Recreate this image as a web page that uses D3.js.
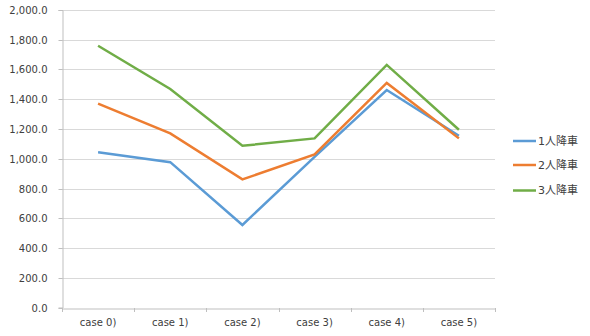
<!DOCTYPE html>
<html><head><meta charset="utf-8">
<script src="https://cdn.jsdelivr.net/npm/d3@7"></script>
<style>body{margin:0;background:#fff}svg{display:block}</style>
</head><body>
<script>
const categories = ["case 0)", "case 1)", "case 2)", "case 3)", "case 4)", "case 5)"];
const seriesNames = ["1人降車", "2人降車", "3人降車"];
const series1 = [1044, 977, 555, 1012, 1462, 1155];
const series2 = [1371, 1170, 861, 1029, 1510, 1137];
const series3 = [1760, 1469, 1087, 1137, 1631, 1195];
const colors = ["#5B9BD5", "#ED7D31", "#70AD47"];
const yTicks = [0, 200, 400, 600, 800, 1000, 1200, 1400, 1600, 1800, 2000];

(function () {
const W = 590, H = 336;
const svg = d3.select("body").append("svg").attr("width", W).attr("height", H);
const mLeft = 62, mRight = 495, mTop = 10, mBottom = 307.5;
const x = d3.scaleBand().domain(categories).range([mLeft, mRight]);
const y = d3.scaleLinear().domain([0, 2000]).range([mBottom, mTop]);
const font = "'DejaVu Sans', Verdana, sans-serif";

// gridlines
svg.append("g").selectAll("line").data(yTicks.filter(d => d > 0)).join("line")
  .attr("x1", mLeft).attr("x2", mRight)
  .attr("y1", d => Math.round(y(d)) + 0.5).attr("y2", d => Math.round(y(d)) + 0.5)
  .attr("stroke", "#d9d9d9").attr("stroke-width", 1);

// y axis
const yAxis = svg.append("g").attr("transform", `translate(${mLeft + 0.5},0)`)
  .call(d3.axisLeft(y).tickValues(yTicks).tickFormat(d3.format(",.1f")).tickSize(4).tickPadding(11));
yAxis.select(".domain").attr("stroke", "#bfbfbf");
yAxis.selectAll(".tick line").attr("stroke", "#bfbfbf");
yAxis.selectAll("text").attr("font-family", font).attr("font-size", 10).attr("fill", "#404040");
yAxis.selectAll(".tick").attr("transform", d => `translate(0,${Math.round(y(d)) + 0.5})`);

// x axis
const xAxis = svg.append("g").attr("transform", `translate(0,${Math.round(mBottom) + 0.5})`)
  .call(d3.axisBottom(x).tickSize(0).tickPadding(10));
xAxis.select(".domain").attr("stroke", "#bfbfbf");
xAxis.selectAll("text").attr("font-family", font).attr("font-size", 10).attr("fill", "#404040");
// category separator ticks
svg.append("g").selectAll("line").data(categories.map(c => x(c)).concat([mRight])).join("line")
  .attr("x1", d => Math.round(d) + 0.5).attr("x2", d => Math.round(d) + 0.5)
  .attr("y1", Math.round(mBottom)).attr("y2", Math.round(mBottom) + 4)
  .attr("stroke", "#bfbfbf");

// lines
const allSeries = [series1, series2, series3];
const line = d3.line().x((d, i) => x(categories[i]) + x.bandwidth() / 2).y(d => y(d));
allSeries.forEach((s, k) => {
  svg.append("path").datum(s).attr("d", line).attr("fill", "none")
    .attr("stroke", colors[k]).attr("stroke-width", 2.5).attr("stroke-linejoin", "miter");
});

// legend
const legendY = [141, 165, 190.5];
seriesNames.forEach((n, k) => {
  const g = svg.append("g").attr("transform", `translate(513,${legendY[k]})`);
  g.append("line").attr("x1", 0).attr("x2", 23).attr("y1", 0).attr("y2", 0)
    .attr("stroke", colors[k]).attr("stroke-width", 2.5);
  g.append("text").attr("x", 25).attr("y", 0).attr("dy", "0.36em")
    .attr("font-family", "'DejaVu Sans', 'Noto Sans CJK JP', sans-serif").attr("font-size", 11)
    .attr("fill", "#404040").text(n);
});
})();
</script>
</body></html>
